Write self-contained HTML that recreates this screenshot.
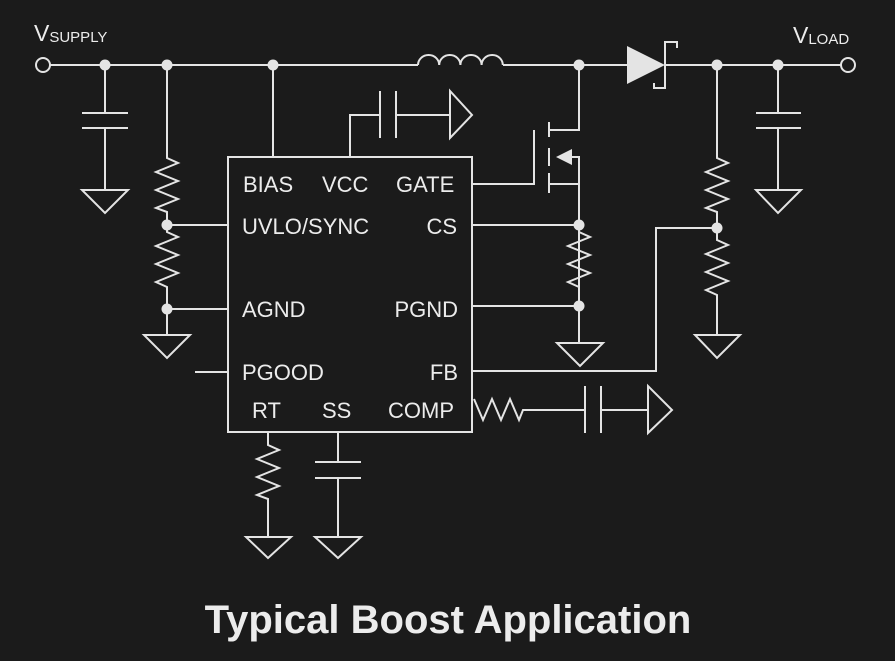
<!DOCTYPE html><html><head><style>
html,body{margin:0;padding:0;background:#1b1b1b;}
svg{display:block}
text{font-family:"Liberation Sans",sans-serif;fill:#ececec}
</style></head><body>
<svg width="895" height="661" viewBox="0 0 895 661">
<g stroke="#e4e4e4" stroke-width="2" fill="none">
<line x1="50" y1="65" x2="418" y2="65"/>
<path d="M418,65 a10.6,10 0 0 1 21.2,0 a10.6,10 0 0 1 21.2,0 a10.6,10 0 0 1 21.2,0 a10.6,10 0 0 1 21.2,0"/>
<line x1="503" y1="65" x2="627" y2="65"/>
<line x1="665" y1="65" x2="841" y2="65"/>
<circle cx="43" cy="65" r="7"/>
<circle cx="848" cy="65" r="7"/>
<path d="M677,48 V42 H665 V88 H654 V83"/>
<path d="M105,65 V113 M82,113 H128 M82,128 H128 M105,128 V190 M82,190 H128 L105,213 Z"/>
<path d="M167,65 V158 l11,5 l-22,9 l22,9 l-22,9 l22,9 l-22,9 l11,4 V232 l11,5 l-22,9 l22,9 l-22,9 l22,9 l-22,9 l11,5 V335 M144,335 H190 L167,358 Z"/>
<path d="M167,225 H228 M167,309 H228 M195,372 H228"/>
<rect x="228" y="157" width="244" height="275"/>
<line x1="273" y1="65" x2="273" y2="157"/>
<path d="M350,157 V115 H380 M380,91 V138 M396,91 V138 M396,115 H450 M450,91 V138 L472,115 Z"/>
<path d="M472,184 H534 V130 M549,122 V137 M549,148 V166 M549,173 V193 M549,130 H579 V65 M549,184 H579 M572,157 H579 V306"/>
<path d="M472,225 H579 M472,306 H579"/>
<path d="M579,232 l11,5 l-22,9 l22,9 l-22,9 l22,9 l-22,9 l11,5 M579,306 V343 M557,343 H603 L580,366 Z"/>
<path d="M717,65 V158 l11,5 l-22,9 l22,9 l-22,9 l22,9 l-22,9 l11,4 V240 l11,5 l-22,9 l22,9 l-22,9 l22,9 l-22,9 l11,5 V335 M695,335 H740 L717,358 Z"/>
<path d="M472,371 H656 V228 H717"/>
<path d="M778,65 V113 M756,113 H801 M756,128 H801 M778,128 V190 M756,190 H801 L778,213 Z"/>
<path d="M474,399 l9,21 l9,-21 l9,21 l9,-21 l9,21 l4,-10 H585 M585,386 V433 M601,386 V433 M601,410 H648 M648,386 V433 L672,410 Z"/>
<path d="M268,432 V445 l11,5 l-22,9 l22,9 l-22,9 l22,9 l-22,9 l11,4 V537 M246,537 H291 L268,558 Z"/>
<path d="M338,432 V462 M315,462 H361 M315,478 H361 M338,478 V537 M315,537 H361 L338,558 Z"/>
</g>
<g fill="#e4e4e4">
<path d="M627,46 L665,65 L627,84 Z"/>
<path d="M556,157 L572,149 L572,165 Z"/>
<circle cx="105" cy="65" r="5.5"/><circle cx="167" cy="65" r="5.5"/><circle cx="273" cy="65" r="5.5"/>
<circle cx="579" cy="65" r="5.5"/><circle cx="717" cy="65" r="5.5"/><circle cx="778" cy="65" r="5.5"/>
<circle cx="167" cy="225" r="5.5"/><circle cx="167" cy="309" r="5.5"/>
<circle cx="579" cy="225" r="5.5"/><circle cx="579" cy="306" r="5.5"/><circle cx="717" cy="228" r="5.5"/>
</g>
<g font-size="22">
<text x="243" y="192">BIAS</text>
<text x="322" y="192">VCC</text>
<text x="396" y="192">GATE</text>
<text x="242" y="234">UVLO/SYNC</text>
<text x="457" y="234" text-anchor="end">CS</text>
<text x="242" y="317">AGND</text>
<text x="458" y="317" text-anchor="end">PGND</text>
<text x="242" y="380">PGOOD</text>
<text x="458" y="380" text-anchor="end">FB</text>
<text x="252" y="418">RT</text>
<text x="322" y="418">SS</text>
<text x="388" y="418">COMP</text>
</g>
<text x="34" y="41" font-size="23">V<tspan font-size="15" dy="1">SUPPLY</tspan></text>
<text x="793" y="43" font-size="23">V<tspan font-size="15" dy="1">LOAD</tspan></text>
<text x="448" y="633" font-size="40" font-weight="bold" text-anchor="middle">Typical Boost Application</text>
</svg>
</body></html>
